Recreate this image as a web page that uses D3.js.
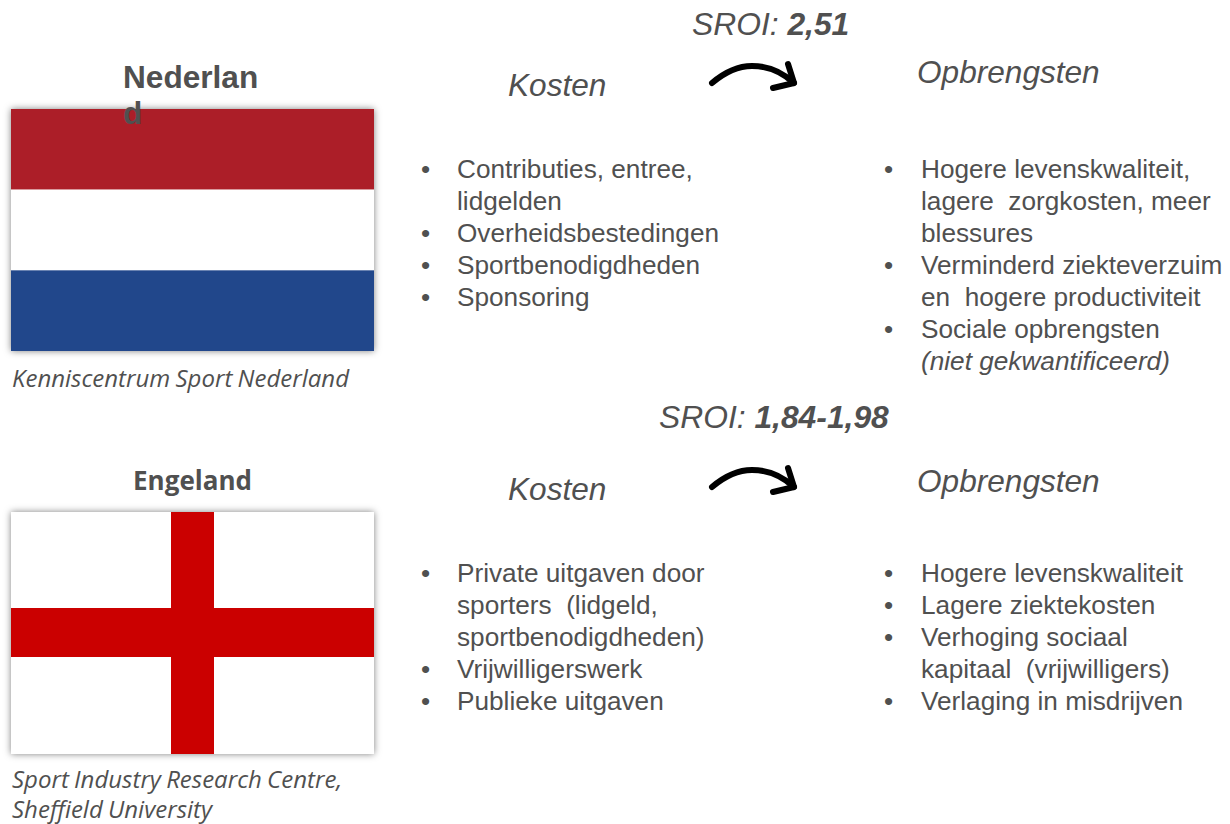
<!DOCTYPE html>
<html>
<head>
<meta charset="utf-8">
<script src="https://cdn.jsdelivr.net/npm/d3@7"></script>
<style>
  html, body { margin: 0; padding: 0; background: #fff; }
  text { fill: #505050; font-family: "Liberation Sans", Arial, sans-serif; }
  .cap { font-family: "Open Sans", sans-serif; font-style: italic; font-size: 24px; word-spacing: -1px; }
  .head { font-style: italic; font-size: 31.6px; }
  .sroi { font-style: italic; font-size: 31.8px; }
  .item { font-size: 26.2px; }
</style>
</head>
<body>
<div id="chart"></div>
<script>
var nlStripes = ['#ac1e28', '#ffffff', '#21478b'];
var enCross = '#cb0000';

var titles = ['Nederlan', 'd'];
var sroiValues = ['2,51', '1,84-1,98'];

var nlCaption = ['Kenniscentrum Sport Nederland'];
var enCaption = ['Sport Industry Research Centre,', 'Sheffield University'];

// [bullet?, text, italic?]
var nlCosts = [
  [1, 'Contributies, entree,'],
  [0, 'lidgelden'],
  [1, 'Overheidsbestedingen'],
  [1, 'Sportbenodigdheden'],
  [1, 'Sponsoring']
];
var nlGains = [
  [1, 'Hogere levenskwaliteit,'],
  [0, 'lagere  zorgkosten, meer'],
  [0, 'blessures'],
  [1, 'Verminderd ziekteverzuim'],
  [0, 'en  hogere productiviteit'],
  [1, 'Sociale opbrengsten'],
  [0, '(niet gekwantificeerd)', 1]
];
var enCosts = [
  [1, 'Private uitgaven door'],
  [0, 'sporters  (lidgeld,'],
  [0, 'sportbenodigdheden)'],
  [1, 'Vrijwilligerswerk'],
  [1, 'Publieke uitgaven']
];
var enGains = [
  [1, 'Hogere levenskwaliteit'],
  [1, 'Lagere ziektekosten'],
  [1, 'Verhoging sociaal'],
  [0, 'kapitaal  (vrijwilligers)'],
  [1, 'Verlaging in misdrijven']
];

var width = 1230, height = 824;
var svg = d3.select('#chart').append('svg')
  .attr('width', width).attr('height', height)
  .style('display', 'block');

var defs = svg.append('defs');
var shadow = defs.append('filter').attr('id', 'shadow')
  .attr('x', '-5%').attr('y', '-5%').attr('width', '110%').attr('height', '110%');
shadow.append('feDropShadow')
  .attr('dx', 0).attr('dy', 0).attr('stdDeviation', 3.5)
  .attr('flood-color', '#000').attr('flood-opacity', 0.5);

function flagBase(y) {
  return svg.append('g').attr('transform', 'translate(11,' + y + ')');
}

// Dutch flag
var nl = flagBase(109);
var nlY = d3.scaleBand().domain(d3.range(nlStripes.length)).range([0, 242]);
nl.append('rect').attr('width', 363).attr('height', 242).attr('fill', '#fff').attr('filter', 'url(#shadow)');
nl.selectAll('.stripe').data(nlStripes).enter().append('rect')
  .attr('class', 'stripe')
  .attr('y', function(d, i) { return nlY(i); })
  .attr('width', 363)
  .attr('height', nlY.bandwidth())
  .attr('fill', function(d) { return d; });

// English flag
var en = flagBase(512);
en.append('rect').attr('width', 363).attr('height', 242).attr('fill', '#fff').attr('filter', 'url(#shadow)');
en.append('rect').attr('x', 160).attr('width', 43).attr('height', 242).attr('fill', enCross);
en.append('rect').attr('y', 96).attr('width', 363).attr('height', 49).attr('fill', enCross);

// Country titles
svg.selectAll('.nlTitle').data(titles).enter().append('text')
  .attr('x', 123)
  .attr('y', function(d, i) { return 88 + i * 36; })
  .attr('font-size', 31.6).attr('font-weight', 'bold')
  .text(function(d) { return d; });
svg.append('text').attr('x', 192.5).attr('y', 490).attr('text-anchor', 'middle')
  .style('font-family', '"Open Sans", sans-serif')
  .attr('font-size', 26).attr('font-weight', 'bold')
  .text('Engeland');

// Captions
function captions(lines, x, y) {
  svg.selectAll(null).data(lines).enter().append('text')
    .attr('class', 'cap')
    .attr('x', x)
    .attr('y', function(d, i) { return y + i * 30; })
    .text(function(d) { return d; });
}
captions(nlCaption, 12, 387);
captions(enCaption, 12, 788);

// SROI lines
function sroi(value, x, y) {
  var t = svg.append('text').attr('class', 'sroi').attr('x', x).attr('y', y);
  t.append('tspan').text('SROI: ');
  t.append('tspan').attr('font-weight', 'bold').text(value);
}
sroi(sroiValues[0], 692, 35);
sroi(sroiValues[1], 659, 428);

function heading(label, x, y) {
  svg.append('text').attr('class', 'head').attr('x', x).attr('y', y).text(label);
}
heading('Kosten', 508, 96);
heading('Opbrengsten', 917, 83);
heading('Kosten', 508, 500);
heading('Opbrengsten', 917, 492);

// Hand drawn arrow
function arrow(dx, dy) {
  var g = svg.append('g').attr('transform', 'translate(' + dx + ',' + dy + ')')
    .attr('fill', 'none').attr('stroke', '#000').attr('stroke-width', 6)
    .attr('stroke-linecap', 'round').attr('stroke-linejoin', 'round');
  g.append('path').attr('d', 'M712,83 C725,72 738,66 752,66 C768,66 782,72 794,83');
  g.append('path').attr('d', 'M788,64 L794,83 L773,88');
}
arrow(0, 0);
arrow(0, 404);

// Bullet lists
function list(rows, bulletX, textX, y0, step) {
  var g = svg.append('g');
  rows.forEach(function(r, i) {
    var y = y0 + i * step;
    if (r[0]) g.append('text').attr('class', 'item').attr('x', bulletX).attr('y', y).text('•');
    g.append('text').attr('class', 'item').attr('x', textX).attr('y', y)
      .attr('font-style', r[2] ? 'italic' : null)
      .style('white-space', 'pre')
      .text(r[1]);
  });
}
list(nlCosts, 421, 457, 178, 32);
list(nlGains, 884, 921, 178, 32);
list(enCosts, 421, 457, 582, 32);
list(enGains, 884, 921, 582, 32);
</script>
</body>
</html>
